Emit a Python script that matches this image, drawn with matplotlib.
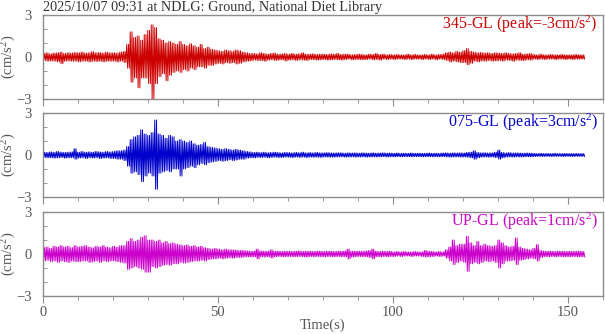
import matplotlib
matplotlib.use("Agg")
import matplotlib.pyplot as plt
import numpy as np
from matplotlib.ticker import MultipleLocator

# ---- data: per-second envelope (upper peak, lower peak magnitude) ----
title = "2025/10/07 09:31 at NDLG: Ground, National Diet Library"
labels = ["345-GL (peak=-3cm/s$^{2}$)", "075-GL (peak=3cm/s$^{2}$)", "UP-GL (peak=1cm/s$^{2}$)"]
colors = ["#cc0000", "#0000cc", "#cc00cc"]

ns_up = [0.25,0.3,0.22,0.28,0.3,0.35,0.25,0.3,0.28,0.32,
         0.3,0.35,0.28,0.3,0.38,0.3,0.32,0.28,0.35,0.3,
         0.3,0.28,0.35,0.4,0.9,1.8,1.4,1.5,1.2,1.6,
         1.9,2.3,2.1,1.3,1.2,1.0,1.1,1.0,0.9,1.1,
         0.9,0.8,0.95,0.8,0.7,0.9,0.6,0.7,0.55,0.5,
         0.45,0.4,0.5,0.45,0.4,0.5,0.45,0.35,0.3,0.25,
         0.25,0.22,0.3,0.25,0.2,0.25,0.28,0.2,0.22,0.25,
         0.2,0.25,0.2,0.22,0.3,0.2,0.2,0.22,0.18,0.2,
         0.2,0.18,0.22,0.2,0.25,0.18,0.2,0.2,0.15,0.18,
         0.2,0.18,0.15,0.2,0.18,0.25,0.18,0.2,0.15,0.18,
         0.15,0.18,0.15,0.15,0.2,0.15,0.18,0.15,0.15,0.18,
         0.15,0.2,0.15,0.18,0.2,0.3,0.35,0.3,0.4,0.35,
         0.45,0.6,0.4,0.35,0.3,0.32,0.28,0.3,0.25,0.3,
         0.28,0.25,0.3,0.25,0.22,0.25,0.3,0.2,0.22,0.25,
         0.18,0.15,0.2,0.15,0.15,0.18,0.15,0.15,0.18,0.15,
         0.15,0.15,0.18,0.15,0.15]
ns_lo = [0.25,0.3,0.28,0.3,0.35,0.48,0.3,0.28,0.3,0.3,
         0.35,0.3,0.3,0.35,0.3,0.32,0.3,0.35,0.3,0.3,
         0.3,0.35,0.3,0.4,0.8,1.8,1.5,2.2,1.5,1.5,
         1.9,3.0,1.9,1.4,1.2,1.7,1.3,1.1,1.0,1.1,
         0.9,1.0,0.8,0.9,0.7,0.7,0.8,0.6,0.6,0.5,
         0.45,0.5,0.4,0.45,0.4,0.5,0.45,0.35,0.3,0.28,
         0.22,0.25,0.25,0.3,0.22,0.2,0.25,0.22,0.2,0.28,
         0.22,0.2,0.25,0.2,0.22,0.25,0.18,0.2,0.22,0.2,
         0.18,0.22,0.2,0.18,0.2,0.22,0.18,0.15,0.2,0.18,
         0.18,0.2,0.18,0.15,0.2,0.18,0.22,0.15,0.18,0.15,
         0.18,0.15,0.15,0.18,0.15,0.18,0.15,0.15,0.18,0.15,
         0.18,0.15,0.2,0.15,0.18,0.25,0.35,0.3,0.35,0.4,
         0.4,0.55,0.45,0.3,0.35,0.28,0.3,0.25,0.3,0.28,
         0.25,0.3,0.22,0.25,0.3,0.22,0.25,0.25,0.2,0.22,
         0.15,0.18,0.15,0.18,0.15,0.15,0.18,0.15,0.15,0.18,
         0.15,0.18,0.15,0.15,0.15]

ew_up = [0.2,0.18,0.22,0.2,0.25,0.2,0.18,0.2,0.22,0.45,
         0.2,0.25,0.2,0.22,0.2,0.25,0.22,0.2,0.25,0.22,
         0.25,0.3,0.3,0.35,0.6,1.1,1.3,1.4,1.8,1.5,
         1.4,1.6,2.5,1.5,1.4,1.2,1.4,1.3,1.0,1.1,
         1.0,0.9,1.0,0.8,0.7,0.75,0.9,0.6,0.55,0.5,
         0.45,0.4,0.45,0.4,0.35,0.4,0.35,0.3,0.25,0.22,
         0.18,0.2,0.17,0.2,0.16,0.18,0.2,0.17,0.15,0.18,
         0.17,0.15,0.18,0.16,0.2,0.15,0.17,0.15,0.18,0.15,
         0.15,0.17,0.15,0.14,0.16,0.15,0.13,0.15,0.14,0.15,
         0.13,0.15,0.14,0.13,0.15,0.13,0.14,0.15,0.13,0.14,
         0.12,0.14,0.12,0.13,0.12,0.14,0.12,0.13,0.12,0.12,
         0.14,0.12,0.13,0.12,0.14,0.15,0.13,0.15,0.14,0.15,
         0.14,0.18,0.2,0.3,0.18,0.15,0.16,0.14,0.15,0.2,
         0.35,0.18,0.15,0.17,0.14,0.15,0.14,0.13,0.14,0.13,
         0.12,0.1,0.12,0.1,0.11,0.1,0.12,0.1,0.1,0.11,
         0.1,0.1,0.11,0.1,0.1]
ew_lo = [0.18,0.2,0.2,0.22,0.2,0.18,0.22,0.2,0.2,0.3,
         0.22,0.2,0.25,0.2,0.22,0.2,0.25,0.22,0.2,0.25,
         0.25,0.3,0.3,0.4,0.8,1.3,1.2,1.4,1.9,1.5,
         1.3,1.5,2.45,1.3,1.2,1.1,1.2,1.0,1.0,1.5,
         1.0,0.9,0.8,0.9,0.7,0.6,0.7,0.55,0.5,0.45,
         0.4,0.45,0.4,0.35,0.4,0.35,0.3,0.3,0.22,0.2,
         0.2,0.17,0.18,0.16,0.2,0.17,0.15,0.18,0.17,0.15,
         0.16,0.18,0.15,0.17,0.15,0.18,0.15,0.16,0.15,0.17,
         0.14,0.15,0.16,0.15,0.14,0.13,0.15,0.14,0.13,0.15,
         0.14,0.13,0.15,0.14,0.13,0.14,0.13,0.12,0.14,0.13,
         0.13,0.12,0.13,0.12,0.12,0.13,0.12,0.12,0.13,0.12,
         0.12,0.13,0.12,0.13,0.12,0.14,0.15,0.14,0.13,0.15,
         0.14,0.16,0.2,0.3,0.2,0.15,0.14,0.15,0.14,0.18,
         0.3,0.2,0.15,0.14,0.15,0.13,0.14,0.13,0.12,0.13,
         0.11,0.1,0.11,0.1,0.1,0.11,0.1,0.1,0.11,0.1,
         0.1,0.11,0.1,0.1,0.1]

ud_up = [0.45,0.5,0.4,0.55,0.5,0.6,0.5,0.55,0.45,0.6,
         0.5,0.55,0.6,0.5,0.45,0.55,0.5,0.6,0.5,0.45,
         0.55,0.5,0.6,0.6,0.9,1.1,0.9,1.0,1.2,1.3,
         1.0,1.0,0.9,1.0,0.8,0.9,0.75,0.8,0.7,0.65,
         0.6,0.65,0.55,0.6,0.5,0.55,0.45,0.4,0.35,0.4,
         0.35,0.3,0.35,0.3,0.3,0.28,0.25,0.25,0.22,0.2,
         0.2,0.35,0.22,0.2,0.2,0.3,0.2,0.2,0.18,0.2,
         0.2,0.18,0.2,0.22,0.18,0.2,0.2,0.18,0.2,0.2,
         0.18,0.2,0.2,0.18,0.2,0.2,0.22,0.35,0.2,0.2,
         0.2,0.2,0.22,0.25,0.35,0.2,0.18,0.2,0.18,0.2,
         0.15,0.18,0.15,0.18,0.15,0.15,0.18,0.15,0.15,0.25,
         0.2,0.18,0.15,0.18,0.15,0.3,0.5,1.0,0.6,0.7,
         0.7,1.26,0.8,0.6,0.9,0.6,0.7,0.6,0.55,0.6,
         1.0,0.8,0.6,0.5,0.55,1.14,0.5,0.4,0.35,0.3,
         0.4,0.67,0.25,0.2,0.2,0.2,0.18,0.2,0.2,0.18,
         0.2,0.18,0.2,0.2,0.18]
ud_lo = [0.5,0.45,0.55,0.5,0.6,0.5,0.55,0.6,0.5,0.55,
         0.55,0.5,0.5,0.6,0.55,0.5,0.6,0.5,0.55,0.5,
         0.5,0.55,0.6,0.65,1.1,1.0,0.9,1.0,1.1,1.3,
         1.3,0.9,1.0,0.9,0.8,0.75,0.8,0.7,0.7,0.6,
         0.65,0.6,0.55,0.5,0.5,0.45,0.5,0.4,0.35,0.35,
         0.3,0.35,0.3,0.28,0.3,0.25,0.25,0.22,0.2,0.22,
         0.2,0.35,0.2,0.22,0.2,0.28,0.2,0.18,0.2,0.2,
         0.18,0.2,0.2,0.18,0.2,0.22,0.18,0.2,0.18,0.2,
         0.2,0.18,0.2,0.2,0.18,0.2,0.2,0.35,0.22,0.2,
         0.18,0.2,0.2,0.25,0.35,0.2,0.2,0.18,0.2,0.18,
         0.18,0.15,0.18,0.15,0.15,0.18,0.15,0.15,0.18,0.22,
         0.2,0.18,0.15,0.18,0.15,0.3,0.5,0.75,0.6,0.5,
         0.6,1.24,0.7,0.6,0.7,0.6,0.5,0.55,0.5,0.6,
         1.0,0.7,0.5,0.5,0.45,0.76,0.45,0.4,0.35,0.3,
         0.35,0.5,0.25,0.2,0.2,0.18,0.2,0.18,0.2,0.2,
         0.2,0.18,0.2,0.2,0.2]

uppers = [ns_up, ew_up, ud_up]
lowers = [ns_lo, ew_lo, ud_lo]

# ---- style ----
plt.rcParams['font.family'] = ['Liberation Serif', 'DejaVu Serif']
plt.rcParams['mathtext.fontset'] = 'custom'
plt.rcParams['mathtext.rm'] = 'Liberation Serif'
plt.rcParams['mathtext.it'] = 'Liberation Serif'
spine_c = "#8c8c8c"
text_c = "#555555"

fig = plt.figure(figsize=(6.05, 3.34), dpi=100)
W, H = 605.0, 334.0
left = 42.7 / W
width = (603 - 42.7) / W
tops = [15, 113, 212]
ph = 84

for k in range(3):
    top_px = tops[k]
    ax = fig.add_axes([left, 1 - (top_px + ph) / H, width, ph / H])
    up = np.array(uppers[k]); lo = np.array(lowers[k])
    n = len(up)
    # dense hatch between each second's upper and lower peak (4 strokes per second)
    xs = (np.arange(n)[:, None] + np.array([0.0, 0.25, 0.5, 0.75])[None, :]).ravel()
    ys = np.column_stack([up, -lo, up, -lo]).ravel()
    ax.plot(xs, ys, color=colors[k], lw=0.7)
    ax.set_xlim(0, 160)
    ax.set_ylim(-3, 3)
    ax.set_yticks([-3, 0, 3])
    ax.yaxis.set_minor_locator(MultipleLocator(1))
    ax.xaxis.set_major_locator(MultipleLocator(50))
    ax.xaxis.set_minor_locator(MultipleLocator(10))
    for s in ax.spines.values():
        s.set_color(spine_c)
        s.set_linewidth(1.0)
    ax.tick_params(axis='y', which='both', direction='in', length=3, color=spine_c,
                   labelcolor=text_c, labelsize=10.5, pad=8)
    ax.tick_params(axis='x', which='major', direction='out', length=5, color=spine_c,
                   labelcolor=text_c, labelsize=10.5, pad=2)
    ax.tick_params(axis='x', which='minor', direction='out', length=3, color=spine_c)
    if k < 2:
        ax.tick_params(axis='x', which='major', labelbottom=False)
    else:
        ax.set_xlabel("Time(s)", color=text_c, fontsize=10.5, labelpad=0)
    ax.set_ylabel("(cm/s$^{2}$)", color=text_c, fontsize=10.5, labelpad=2)
    ax.yaxis.set_label_coords(-0.0445, 0.5)
    ax.text(0.991, 0.885, labels[k], transform=ax.transAxes, ha='right', va='center',
            color=colors[k], fontsize=11.5)

fig.text(left, 1 - 0.5 / H, title, ha='left', va='top', color="#333333", fontsize=10.3)
fig.savefig("out.png", dpi=100)
